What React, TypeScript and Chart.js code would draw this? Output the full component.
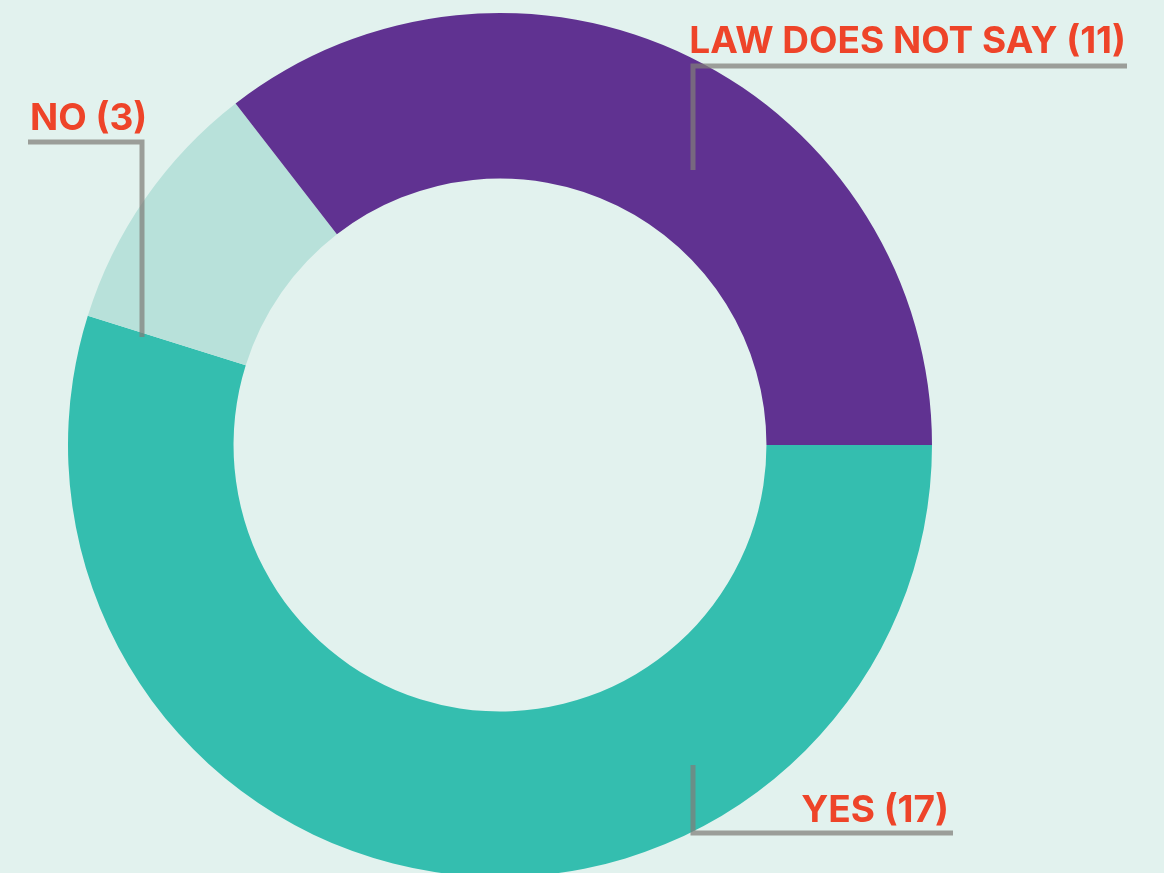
import React, { useEffect, useRef } from "react";
import { Chart, registerables } from "chart.js";

Chart.register(...registerables);

const categories = ["YES", "NO", "LAW DOES NOT SAY"];
const counts = [17, 3, 11];
const sliceColors = ["#34BEAF", "#B8E1DA", "#603291"];

const BG = "#E2F2EE";
const LABEL_COLOR = "#EE4429";
const LEADER_COLOR = "rgba(128,125,120,0.72)";

// Callout layout, offsets relative to the doughnut centre (px)
const calloutLayout = [
  { path: [[193, 320], [193, 388], [453, 388]], textX: 449, textY: 377, align: "right" },
  { path: [[-472, -303], [-358, -303], [-358, -108]], textX: -470, textY: -315, align: "left" },
  { path: [[193, -275], [193, -379], [627, -379]], textX: 626, textY: -392, align: "right" },
];

const calloutPlugin = {
  id: "callouts",
  afterDatasetsDraw(chart: any) {
    const meta = chart.getDatasetMeta(0);
    const arc = meta.data[0];
    if (!arc) return;
    const cx = arc.x;
    const cy = arc.y;
    const ctx = chart.ctx;
    ctx.save();
    calloutLayout.forEach((c, i) => {
      ctx.beginPath();
      c.path.forEach(([dx, dy], j) => {
        if (j === 0) ctx.moveTo(cx + dx, cy + dy);
        else ctx.lineTo(cx + dx, cy + dy);
      });
      ctx.strokeStyle = LEADER_COLOR;
      ctx.lineWidth = 5;
      ctx.lineJoin = "miter";
      ctx.lineCap = "butt";
      ctx.stroke();
      ctx.fillStyle = LABEL_COLOR;
      ctx.font = "700 37px Inter";
      ctx.textAlign = c.align;
      ctx.textBaseline = "alphabetic";
      ctx.fillText(`${categories[i]} (${counts[i]})`, cx + c.textX, cy + c.textY);
    });
    ctx.restore();
  },
};

export default function App() {
  const ref = useRef<HTMLCanvasElement | null>(null);
  useEffect(() => {
    document.body.style.margin = "0";
    document.body.style.background = BG;
    const canvas = ref.current;
    if (!canvas) return;
    const chart = new Chart(canvas, {
      type: "doughnut",
      data: {
        labels: categories,
        datasets: [
          {
            data: counts,
            backgroundColor: sliceColors,
            borderWidth: 0,
            radius: 432,
            cutout: 264,
          } as any,
        ],
      },
      options: {
        responsive: false,
        animation: false,
        devicePixelRatio: 1,
        rotation: 90,
        layout: { padding: { left: 0, right: 164, top: 17, bottom: 0 } },
        plugins: {
          legend: { display: false },
          tooltip: { enabled: false },
        },
      },
      plugins: [calloutPlugin],
    });
    return () => chart.destroy();
  }, []);
  return (
    <div style={{ position: "fixed", left: 0, top: 0, width: 1164, height: 873, overflow: "hidden", background: BG }}>
      <canvas ref={ref} width={1164} height={873} style={{ display: "block" }} />
    </div>
  );
}
